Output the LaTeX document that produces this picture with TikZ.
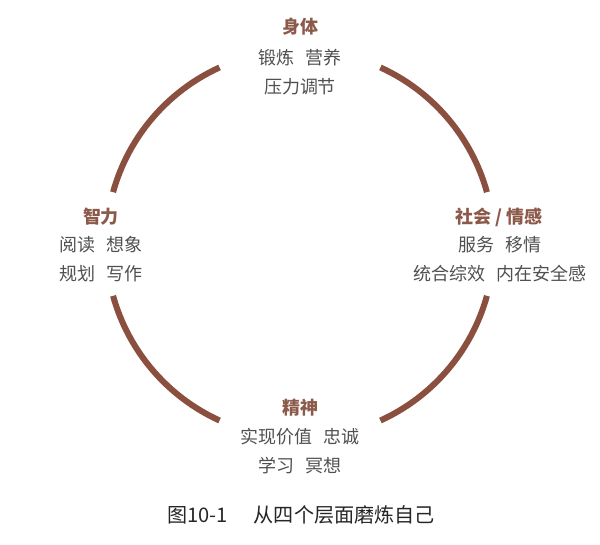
\documentclass[tikz,border=0pt]{standalone}
\usepackage{fontspec}
\usepackage{tikz}
\usetikzlibrary{positioning}
\newfontfamily\cjk{Noto Sans CJK SC}
\definecolor{ringbrown}{HTML}{8A4F3E}
\definecolor{headbrown}{HTML}{8C5A4A}
\definecolor{itemgray}{HTML}{505050}
\newcommand{\gap}{\hspace{0.6em}}
\tikzset{
	ring/.style={draw=ringbrown,line width=4.3pt},
	head/.style={inner sep=0pt,text=headbrown,font=\cjk\bfseries\fontsize{12.8}{20.6}\selectfont},
	items/.style={inner sep=0pt,align=center,text=itemgray,font=\cjk\fontsize{12.8}{20.6}\selectfont},
	caption/.style={inner sep=0pt,text=black!85,font=\cjk\fontsize{14.3}{16}\selectfont}
}
\begin{document}
\begin{tikzpicture}
	\useasboundingbox (0,0) rectangle (15,13.625);
	\coordinate (c) at (7.5,7.525);
	\foreach \a in {15.5,114.5,195.5,294.5}
		\draw[ring] ([shift={(\a:4.85)}]c) arc[start angle=\a,delta angle=50,radius=4.85];
	\node[head] (body) at (7.5,12.95) {身体};
	\node[items] (bodyitems) at (7.5,11.81) {锻炼\gap 营养\\压力调节};
	\node[head] (social) at (12.475,8.2) {社会 / 情感};
	\node[items] (socialitems) at (12.5,7.14) {服务\gap 移情\\统合综效\gap 内在安全感};
	\node[head] (mind) at (2.525,8.2) {智力};
	\node[items] (minditems) at (2.525,7.14) {阅读\gap 想象\\规划\gap 写作};
	\node[head] (spirit) at (7.5,3.425) {精神};
	\node[items] (spiritems) at (7.5,2.34) {实现价值\gap 忠诚\\学习\gap 冥想};
	\node[caption] (cap) at (7.525,0.75) {图10-1\hspace{1.3em}从四个层面磨炼自己};
\end{tikzpicture}
\end{document}
